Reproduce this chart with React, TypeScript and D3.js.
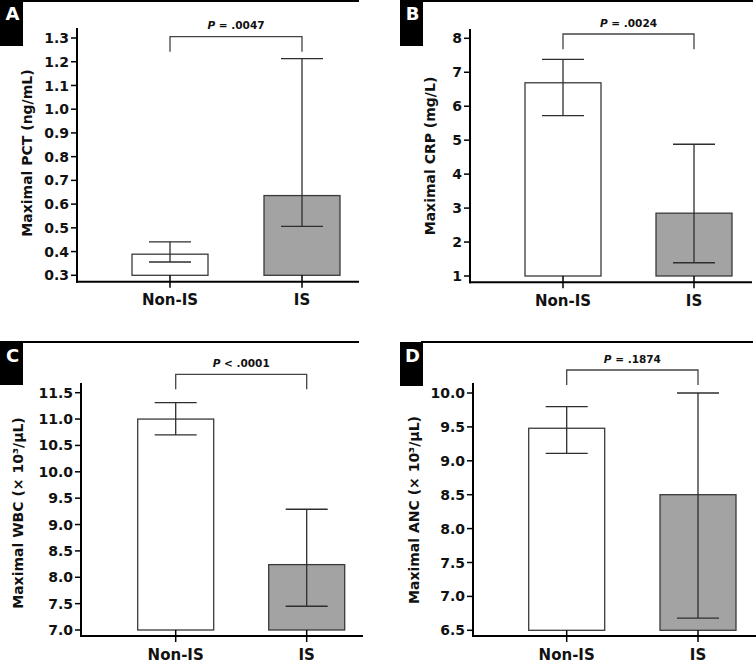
import React from "react";
import * as d3 from "d3";

const categories = ["Non-IS", "IS"];

const pctMean = [0.389, 0.636];
const pctLow = [0.356, 0.506];
const pctHigh = [0.441, 1.213];
const pctTicks = [0.3, 0.4, 0.5, 0.6, 0.7, 0.8, 0.9, 1.0, 1.1, 1.2, 1.3];

const crpMean = [6.69, 2.85];
const crpLow = [5.72, 1.39];
const crpHigh = [7.38, 4.88];
const crpTicks = [1, 2, 3, 4, 5, 6, 7, 8];

const wbcMean = [11.0, 8.24];
const wbcLow = [10.7, 7.45];
const wbcHigh = [11.31, 9.29];
const wbcTicks = [7.0, 7.5, 8.0, 8.5, 9.0, 9.5, 10.0, 10.5, 11.0, 11.5];

const ancMean = [9.48, 8.5];
const ancLow = [9.11, 6.68];
const ancHigh = [9.8, 10.0];
const ancTicks = [6.5, 7.0, 7.5, 8.0, 8.5, 9.0, 9.5, 10.0];

const panelLetters = ["A", "B", "C", "D"];
const yLabels = [
  "Maximal PCT (ng/mL)",
  "Maximal CRP (mg/L)",
  "Maximal WBC (× 10³/μL)",
  "Maximal ANC (× 10³/μL)",
];
const pSigns = ["=", "=", "<", "="];
const pValues = [".0047", ".0024", ".0001", ".1874"];

const FONT = "'DejaVu Sans', Verdana, sans-serif";

type Layout = {
  axisX: number;
  axisTop: number;
  yTopPx: number;
  yBotPx: number;
  xAxisY: number;
  xEnd: number;
  cat: [number, number];
  lineX0: number;
  lineX1: number;
  lineY: number;
  boxX: number;
  boxY: number;
  boxH: number;
  bracketY: number;
  bracketBot: number;
  pY: number;
  labelX: number;
  labelY: number;
  catY: number;
  fmt: string;
};

const panels = [
  {
    mean: pctMean, low: pctLow, high: pctHigh, ticks: pctTicks,
    layout: {
      axisX: 77, axisTop: 28, yTopPx: 38, yBotPx: 275.3, xAxisY: 281.7, xEnd: 359,
      cat: [170, 302], lineX0: 0, lineX1: 359, lineY: 1, boxX: 0, boxY: 0, boxH: 46,
      bracketY: 36.7, bracketBot: 51.7, pY: 29.3, labelX: 27, labelY: 153, catY: 305, fmt: ".1f",
    } as Layout,
  },
  {
    mean: crpMean, low: crpLow, high: crpHigh, ticks: crpTicks,
    layout: {
      axisX: 470, axisTop: 29, yTopPx: 38.3, yBotPx: 276, xAxisY: 282.3, xEnd: 752,
      cat: [563, 694], lineX0: 422, lineX1: 753, lineY: 1, boxX: 400, boxY: 0, boxH: 46,
      bracketY: 34, bracketBot: 49.3, pY: 26.7, labelX: 430, labelY: 156, catY: 306, fmt: "d",
    } as Layout,
  },
  {
    mean: wbcMean, low: wbcLow, high: wbcHigh, ticks: wbcTicks,
    layout: {
      axisX: 81, axisTop: 383, yTopPx: 392.7, yBotPx: 630, xAxisY: 636, xEnd: 363,
      cat: [175.7, 306.7], lineX0: 0, lineX1: 359, lineY: 342, boxX: 0, boxY: 342, boxH: 43,
      bracketY: 374.3, bracketBot: 389.3, pY: 366.7, labelX: 18, labelY: 513, catY: 659.5, fmt: ".1f",
    } as Layout,
  },
  {
    mean: ancMean, low: ancLow, high: ancHigh, ticks: ancTicks,
    layout: {
      axisX: 473, axisTop: 383, yTopPx: 393, yBotPx: 630.3, xAxisY: 636, xEnd: 756,
      cat: [566.7, 698], lineX0: 421, lineX1: 753, lineY: 342, boxX: 400, boxY: 342, boxH: 44,
      bracketY: 370, bracketBot: 385, pY: 362.7, labelX: 414, labelY: 510, catY: 659.5, fmt: ".1f",
    } as Layout,
  },
];

const BAR_W = 76;
const CAP = 21;

function Panel({ idx }: { idx: number }) {
  const p = panels[idx];
  const L = p.layout;
  const ticks = p.ticks;
  const y = d3
    .scaleLinear()
    .domain([ticks[0], ticks[ticks.length - 1]])
    .range([L.yBotPx, L.yTopPx]);
  const x = d3.scalePoint<string>().domain(categories).range(L.cat);
  const fmt = d3.format(L.fmt);
  const base = ticks[0];
  const c0 = x(categories[0]) as number;
  const c1 = x(categories[1]) as number;
  return (
    <g>
      <line x1={L.lineX0} x2={L.lineX1} y1={L.lineY} y2={L.lineY} stroke="#000" strokeWidth={2} />
      <rect x={L.boxX} y={L.boxY} width={23} height={L.boxH} fill="#000" />
      <text
        x={L.boxX + 12.5}
        y={L.boxY + 20}
        fill="#fff"
        fontFamily={FONT}
        fontWeight="bold"
        fontSize={18}
        textAnchor="middle"
      >
        {panelLetters[idx]}
      </text>

      {categories.map((c, i) => (
        <rect
          key={c}
          x={(x(c) as number) - BAR_W / 2}
          y={y(p.mean[i])}
          width={BAR_W}
          height={y(base) - y(p.mean[i])}
          fill={i === 0 ? "#ffffff" : "#a3a3a3"}
          stroke="#3a3a3a"
          strokeWidth={1.3}
        />
      ))}

      {categories.map((c, i) => {
        const cx = x(c) as number;
        return (
          <g key={c} stroke="#2e2e2e" strokeWidth={1.3}>
            <line x1={cx} x2={cx} y1={y(p.low[i])} y2={y(p.high[i])} />
            <line x1={cx - CAP} x2={cx + CAP} y1={y(p.high[i])} y2={y(p.high[i])} />
            <line x1={cx - CAP} x2={cx + CAP} y1={y(p.low[i])} y2={y(p.low[i])} />
          </g>
        );
      })}

      {categories.map((c) => (
        <line
          key={c}
          x1={x(c) as number}
          x2={x(c) as number}
          y1={y(base)}
          y2={L.xAxisY + 6}
          stroke="#000"
          strokeWidth={1.5}
        />
      ))}

      <line x1={L.axisX} x2={L.axisX} y1={L.axisTop} y2={L.xAxisY + 1} stroke="#000" strokeWidth={2} />
      <line x1={L.axisX - 1} x2={L.xEnd} y1={L.xAxisY} y2={L.xAxisY} stroke="#000" strokeWidth={2} />

      {ticks.map((t) => (
        <g key={t}>
          <line x1={L.axisX - 6} x2={L.axisX} y1={y(t)} y2={y(t)} stroke="#000" strokeWidth={1.5} />
          <text
            x={L.axisX - 8}
            y={y(t)}
            dy="0.36em"
            textAnchor="end"
            fontFamily={FONT}
            fontWeight="bold"
            fontSize={14}
            fill="#111"
          >
            {fmt(t)}
          </text>
        </g>
      ))}

      {categories.map((c) => (
        <text
          key={c}
          x={x(c) as number}
          y={L.catY}
          textAnchor="middle"
          fontFamily={FONT}
          fontWeight="bold"
          fontSize={15}
          fill="#111"
        >
          {c}
        </text>
      ))}

      <text
        transform={`translate(${L.labelX},${L.labelY}) rotate(-90)`}
        textAnchor="middle"
        dy="0.36em"
        fontFamily={FONT}
        fontWeight="bold"
        fontSize={14}
        fill="#111"
      >
        {yLabels[idx]}
      </text>

      <path
        d={`M${c0},${L.bracketBot}V${L.bracketY}H${c1}V${L.bracketBot}`}
        fill="none"
        stroke="#444"
        strokeWidth={1.3}
      />
      <text
        x={(c0 + c1) / 2}
        y={L.pY}
        textAnchor="middle"
        fontFamily={FONT}
        fontWeight="bold"
        fontSize={10.5}
        fill="#111"
      >
        <tspan fontStyle="italic">P</tspan>
        {` ${pSigns[idx]} ${pValues[idx]}`}
      </text>
    </g>
  );
}

export default function App() {
  return (
    <svg
      width={756}
      height={664}
      viewBox="0 0 756 664"
      style={{ position: "absolute", left: 0, top: 0, background: "#fff" }}
    >
      <rect width={756} height={664} fill="#fff" />
      {panels.map((_, i) => (
        <Panel key={i} idx={i} />
      ))}
    </svg>
  );
}
